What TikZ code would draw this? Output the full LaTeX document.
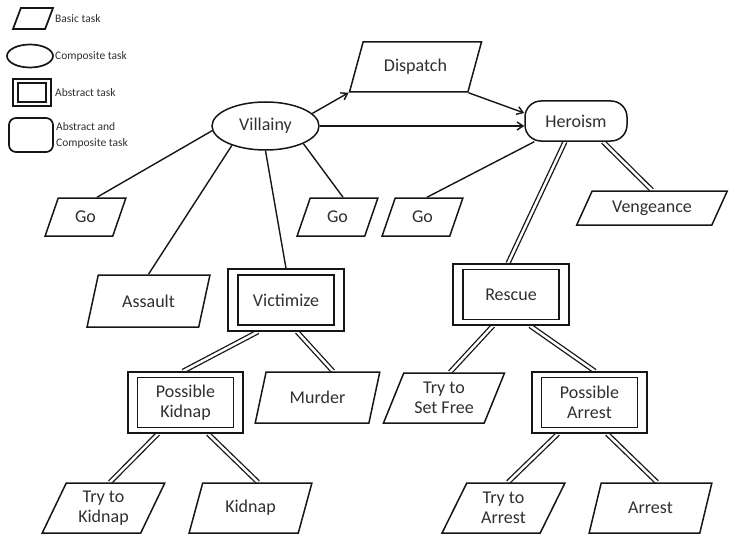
\documentclass[tikz,border=0pt]{standalone}
\usepackage{fontspec}
\setmainfont{Carlito}
\usetikzlibrary{shapes.geometric,arrows.meta,backgrounds}
\definecolor{ink}{HTML}{161616}
\definecolor{label}{HTML}{303030}
\begin{document}
\begin{tikzpicture}[x=1pt,y=-1pt,
  every node/.style={font=\fontsize{18}{20.5}\selectfont, text=label, align=center, inner sep=0pt},
  base/.style={draw=ink, line width=1.5pt, fill=white},
  basic/.style={base, trapezium, trapezium left angle=65, trapezium right angle=115,
    trapezium stretches=true},
  composite/.style={base, ellipse},
  abstract/.style 2 args={base, rectangle,
    path picture={\draw[ink, line width=1.5pt]
      ([shift={(#1,-#2)}]path picture bounding box.north west) rectangle
      ([shift={(-#1,#2)}]path picture bounding box.south east);}},
  abscomp/.style={base, rectangle, rounded corners=16pt},
  keyshape/.style={line width=1.7pt, inner sep=2pt},
  legend/.style={font=\fontsize{11.5}{15}\selectfont, anchor=west, align=left},
  conn/.style={draw=ink, line width=1.4pt},
  dbl/.style={draw=ink, double=white, double distance=2.5pt, line width=1.3pt},
  arr/.style={conn, -{Straight Barb[length=6pt,width=8pt]}}
]
\useasboundingbox (0,0) rectangle (729,535);

% ---- key ----
\node[basic, keyshape, trapezium left angle=72, trapezium right angle=108,
  minimum width=40pt, minimum height=21pt] (kbasic) at (33,18.5) {};
\node[composite, keyshape, minimum width=46pt, minimum height=23pt] (kcomp) at (30,56) {};
\node[abstract={5pt}{4pt}, keyshape, minimum width=38pt, minimum height=27pt] (kabs) at (32,92.5) {};
\node[abscomp, keyshape, rounded corners=7pt, minimum width=44pt, minimum height=34pt] (kac) at (31,135) {};
\node[legend] (tbasic) at (55,19) {Basic task};
\node[legend] (tcomp) at (55,56) {Composite task};
\node[legend] (tabs) at (55,93) {Abstract task};
\node[legend, font=\fontsize{11.5}{16}\selectfont] (tac) at (56,135) {Abstract and\\Composite task};

% ---- top level ----
\node[composite, minimum width=107pt, minimum height=48pt] (villainy) at (265.5,126) {Villainy};
\node[basic, trapezium left angle=62, trapezium right angle=118,
  minimum width=133pt, minimum height=50pt] (dispatch) at (415.5,67) {Dispatch};
\node[abscomp, minimum width=102pt, minimum height=40pt] (heroism) at (576,121) {Heroism};

% ---- villainy branch ----
\node[basic, trapezium left angle=67, trapezium right angle=113,
  minimum width=81pt, minimum height=38pt] (go1) at (85.5,217) {Go};
\node[basic, minimum width=123pt, minimum height=52pt] (assault) at (148.5,301) {Assault};
\node[basic, trapezium left angle=67, trapezium right angle=113,
  minimum width=81pt, minimum height=38pt] (go2) at (337.5,217) {Go};
\node[abstract={10pt}{6pt}, minimum width=116pt, minimum height=62pt] (victimize) at (286,300) {Victimize};
\node[abstract={9.5pt}{5.5pt}, minimum width=115pt, minimum height=61pt] (pkidnap) at (185.5,402.5) {Possible\\Kidnap};
\node[basic, minimum width=125pt, minimum height=51pt] (murder) at (317.5,397.5) {Murder};
\node[basic, minimum width=123pt, minimum height=50pt] (trykidnap) at (103.5,508) {Try to\\Kidnap};
\node[basic, minimum width=123pt, minimum height=50pt] (kidnap) at (250.5,508) {Kidnap};

% ---- heroism branch ----
\node[basic, trapezium left angle=67, trapezium right angle=113,
  minimum width=81pt, minimum height=38pt] (go3) at (422.5,217) {Go};
\node[basic, trapezium left angle=55, trapezium right angle=125,
  minimum width=152pt, minimum height=34pt] (vengeance) at (652,208) {Vengeance};
\node[abstract={10pt}{5.5pt}, minimum width=116pt, minimum height=61pt] (rescue) at (511,294.5) {Rescue};
\node[basic, minimum width=122pt, minimum height=50pt] (setfree) at (444,398) {Try to\\Set Free};
\node[abstract={9.5pt}{5.5pt}, minimum width=115pt, minimum height=61pt] (parrest) at (589.5,402.5) {Possible\\Arrest};
\node[basic, minimum width=123pt, minimum height=50pt] (tryarrest) at (503.5,508) {Try to\\Arrest};
\node[basic, minimum width=123pt, minimum height=50pt] (arrest) at (650.5,508) {Arrest};

\begin{scope}[on background layer]
  % sequence arrows
  \draw[arr] (villainy.15) -- (dispatch.bottom left corner);
  \draw[arr] (dispatch.bottom right corner) -- ([yshift=8pt]heroism.west);
  \draw[arr] (villainy.east) -- (villainy.east -| heroism.west);
  % composite decompositions
  \draw[conn] (villainy.185) -- ([xshift=11.5pt]go1.north);
  \draw[conn] (villainy.210) -- (assault.north);
  \draw[conn] (villainy.south) -- (victimize.north);
  \draw[conn] (villainy.335) -- ([xshift=5.5pt]go2.north);
  \draw[conn] ([xshift=10pt]heroism.south west) -- ([xshift=4.5pt]go3.north);
  % abstract refinements
  \draw[dbl] ([xshift=-11pt]heroism.south) -- ([xshift=-3pt]rescue.north);
  \draw[dbl] ([xshift=27pt]heroism.south) -- (vengeance.north);
  \draw[dbl] ([xshift=-28pt]victimize.south) -- ([xshift=-2.5pt]pkidnap.north);
  \draw[dbl] ([xshift=11pt]victimize.south) -- ([xshift=15.5pt]murder.north);
  \draw[dbl] ([xshift=-27.5pt]pkidnap.south) -- ([xshift=6.5pt]trykidnap.north);
  \draw[dbl] ([xshift=22.5pt]pkidnap.south) -- ([xshift=7.5pt]kidnap.north);
  \draw[dbl] ([xshift=-18pt]rescue.south) -- ([xshift=6pt]setfree.north);
  \draw[dbl] ([xshift=19pt]rescue.south) -- ([xshift=5.5pt]parrest.north);
  \draw[dbl] ([xshift=-31.5pt]parrest.south) -- ([xshift=4.5pt]tryarrest.north);
  \draw[dbl] ([xshift=17.5pt]parrest.south) -- ([xshift=6.5pt]arrest.north);
\end{scope}
\end{tikzpicture}
\end{document}
